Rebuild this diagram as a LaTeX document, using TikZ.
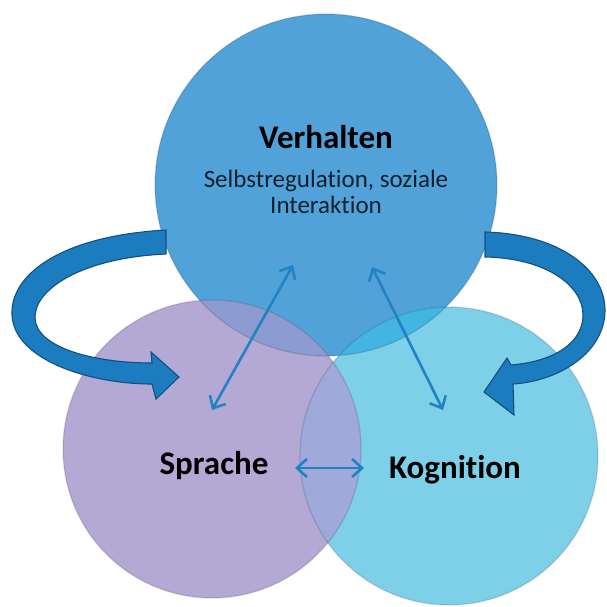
\documentclass[tikz,border=0pt]{standalone}
\usepackage{fontspec}
\setmainfont{Carlito}[Ligatures=NoCommon]
\usetikzlibrary{arrows.meta}
\definecolor{vhblue}{HTML}{50A2D8}
\definecolor{sppurple}{HTML}{B4A8D5}
\definecolor{kgcyan}{HTML}{7ED0E8}
\definecolor{vhsp}{HTML}{8C9BD1}
\definecolor{vhkg}{HTML}{42B5E2}
\definecolor{spkg}{HTML}{A0A9DB}
\definecolor{allthree}{HTML}{94A4DA}
\definecolor{loopfill}{HTML}{1B7DC0}
\definecolor{loopedge}{HTML}{13507E}
\definecolor{linkblue}{HTML}{2383C2}
\definecolor{inktext}{HTML}{14202E}

\begin{document}
\begin{tikzpicture}[x=1pt,y=-1pt,
  rim/.style={draw=black, draw opacity=0.12, line width=1.4pt},
  loopband/.style={fill=loopfill, draw=loopedge, line width=1.1pt, line join=miter},
  link/.style={draw=linkblue, line width=2.6pt,
    {Straight Barb[length=10pt,width=18pt]}-{Straight Barb[length=10pt,width=18pt]}},
  title/.style={font=\fontsize{33}{38}\selectfont\bfseries, text=black, anchor=base, inner sep=0pt},
  sub/.style={font=\fontsize{25}{26}\selectfont, text=inktext, anchor=base, inner sep=0pt}
]
\useasboundingbox (0,0) rectangle (607,606);
\fill[white] (0,0) rectangle (607,606);

% centres of the three circles
\coordinate (vhc) at (326,185);
\coordinate (spc) at (212,449);
\coordinate (kgc) at (449,456);

% circle bodies
\fill[vhblue] (vhc) circle[radius=171pt];
\fill[sppurple] (spc) circle[radius=149pt];
\fill[kgcyan] (kgc) circle[radius=149pt];

% overlapping regions
\begin{scope}
  \clip (vhc) circle[radius=171pt];
  \fill[vhsp] (spc) circle[radius=149pt];
\end{scope}
\begin{scope}
  \clip (vhc) circle[radius=171pt];
  \fill[vhkg] (kgc) circle[radius=149pt];
\end{scope}
\begin{scope}
  \clip (spc) circle[radius=149pt];
  \fill[spkg] (kgc) circle[radius=149pt];
  \clip (vhc) circle[radius=171pt];
  \fill[allthree] (kgc) circle[radius=149pt];
\end{scope}

% soft rims
\path[rim] (vhc) circle[radius=171pt];
\path[rim] (spc) circle[radius=149pt];
\path[rim] (kgc) circle[radius=149pt];

% curved feedback arrows
\path[loopband] (166,230) .. controls (60,236) and (10,275) .. (12,315)
  .. controls (14,360) and (90,384) .. (152,384)
  -- (156,399) -- (179,377) -- (151,352) -- (152,363)
  .. controls (95,363) and (36,348) .. (35,318)
  .. controls (34,290) and (80,258) .. (166,254) -- cycle;

\path[loopband] (485,232) .. controls (560,234) and (605,270) .. (605,310)
  .. controls (605,352) and (560,381) .. (513,384)
  -- (514,415) -- (484,392) -- (507,358) -- (511,365)
  .. controls (550,362) and (583,345) .. (583,315)
  .. controls (583,285) and (545,258) .. (485,257) -- cycle;

% labels
\node[title] (vh) at (326,148) {Verhalten};
\node[sub] (vhsub1) at (326,187) {Selbstregulation, soziale};
\node[sub] (vhsub2) at (326,213) {Interaktion};
\node[title] (sp) at (214,474) {Sprache};
\node[title] (kg) at (455,478) {Kognition};

% two-way links
\coordinate (spup) at (212,410);
\coordinate (vhleft) at (293,265);
\coordinate (vhright) at (372,267);
\coordinate (kgup) at (443,410);
\coordinate (spright) at (295,468);
\coordinate (kgleft) at (364,468);
\draw[link] (spup) -- (vhleft);
\draw[link] (vhright) -- (kgup);
\draw[link] (spright) -- (kgleft);
\end{tikzpicture}
\end{document}
